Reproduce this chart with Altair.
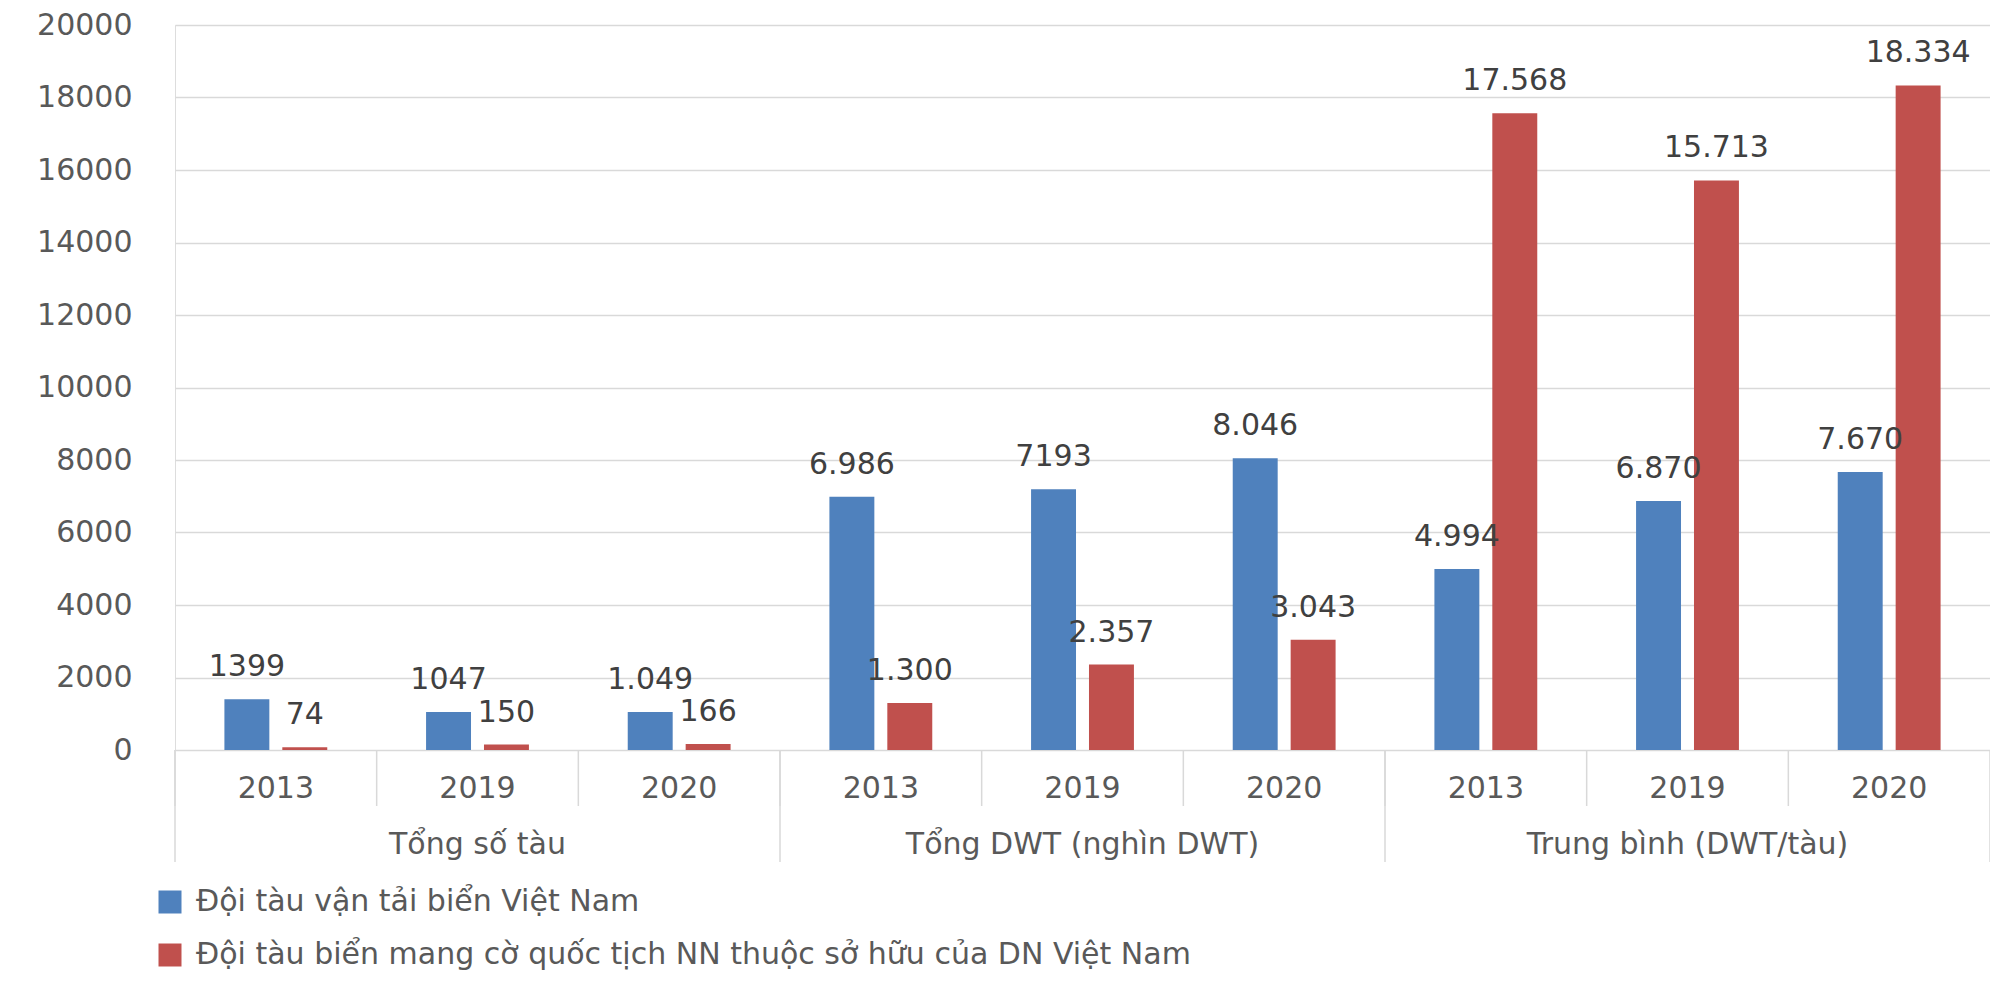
import altair as alt
import pandas as pd

groups = ["Tổng số tàu", "Tổng DWT (nghìn DWT)", "Trung bình (DWT/tàu)"]
years = ["2013", "2019", "2020"]
series = [
    "Đội tàu vận tải biển Việt Nam",
    "Đội tàu biển mang cờ quốc tịch NN thuộc sở hữu của DN Việt Nam",
]
vn_values = [1399, 1047, 1049, 6986, 7193, 8046, 4994, 6870, 7670]
nn_values = [74, 150, 166, 1300, 2357, 3043, 17568, 15713, 18334]
vn_labels = ["1399", "1047", "1.049", "6.986", "7193", "8.046", "4.994", "6.870", "7.670"]
nn_labels = ["74", "150", "166", "1.300", "2.357", "3.043", "17.568", "15.713", "18.334"]
colors = ["#4F81BD", "#C0504D"]
y_ticks = list(range(0, 20001, 2000))

keys = [f"{g}|{y}" for g in groups for y in years]

rows = []
for i, k in enumerate(keys):
    rows.append({"key": k, "series": series[0], "value": vn_values[i], "label": vn_labels[i]})
    rows.append({"key": k, "series": series[1], "value": nn_values[i], "label": nn_labels[i]})
df = pd.DataFrame(rows)

W, H = 1815, 725
FONT = "DejaVu Sans"
GRAY = "#595959"
LINE = "#D9D9D9"


def xenc(band=0.5):
    return alt.X(
        "key:N",
        bandPosition=band,
        scale=alt.Scale(domain=keys, paddingInner=0, paddingOuter=0),
        axis=alt.Axis(
            title=None,
            labelExpr="split(datum.value, '|')[1]",
            labelAngle=0,
            ticks=False,
            domain=False,
            grid=False,
            labelPadding=23,
            labelFontSize=30,
            labelFont=FONT,
            labelColor=GRAY,
        ),
    )


xoff = alt.XOffset(
    "series:N",
    scale=alt.Scale(domain=series, paddingInner=0.224, paddingOuter=0.853),
)

yenc = alt.Y(
    "value:Q",
    scale=alt.Scale(domain=[0, 20000], nice=False),
    axis=alt.Axis(
        values=y_ticks,
        title=None,
        grid=True,
        gridColor=LINE,
        gridWidth=1.5,
        domain=False,
        ticks=False,
        labelPadding=43,
        labelFontSize=30,
        labelFont=FONT,
        labelColor=GRAY,
        format="d",
    ),
)

bars = alt.Chart(df).mark_bar().encode(
    x=xenc(),
    xOffset=xoff,
    y=yenc,
    color=alt.Color(
        "series:N",
        scale=alt.Scale(domain=series, range=colors),
        legend=alt.Legend(
            title=None,
            orient="none",
            legendX=-20,
            legendY=862,
            direction="vertical",
            symbolType="square",
            symbolSize=529,
            symbolStrokeWidth=0,
            labelFontSize=30,
            labelFont=FONT,
            labelColor=GRAY,
            labelLimit=2000,
            labelOffset=11,
            rowPadding=23,
        ),
    ),
)

labels = alt.Chart(df).mark_text(
    dy=-32, fontSize=30, font=FONT, color="#404040"
).encode(x=xenc(), xOffset=xoff, y=yenc, text="label:N")

sep_df = pd.DataFrame({"key": keys})
year_seps = alt.Chart(sep_df).mark_rule(color=LINE, strokeWidth=1.5).encode(
    x=xenc(0), y=alt.value(H), y2=alt.value(H + 56)
)

grp_df = pd.DataFrame({"key": [keys[0], keys[3], keys[6]]})
grp_seps = alt.Chart(grp_df).mark_rule(color=LINE, strokeWidth=1.5).encode(
    x=xenc(0), y=alt.value(H), y2=alt.value(H + 112)
)
end_df = pd.DataFrame({"key": [keys[-1]]})
end_sep = alt.Chart(end_df).mark_rule(color=LINE, strokeWidth=1.5).encode(
    x=xenc(1), y=alt.value(H), y2=alt.value(H + 112)
)

gl_df = pd.DataFrame({"key": [keys[1], keys[4], keys[7]], "group": groups})
group_text = alt.Chart(gl_df).mark_text(
    fontSize=30, font=FONT, color=GRAY, baseline="middle"
).encode(x=xenc(), y=alt.value(H + 95), text="group:N")

chart = (
    alt.layer(year_seps, grp_seps, end_sep, bars, labels, group_text)
    .properties(
        width=W,
        height=H,
        autosize=alt.AutoSizeParams(type="none"),
        padding={"left": 167, "top": 17, "right": 0, "bottom": 222},
    )
    .configure_view(strokeWidth=0, stroke="transparent")
    .configure_axis(domain=False)
    .configure(background="white")
)

chart.save("out.html", embed_options={"renderer": "svg", "actions": False})
